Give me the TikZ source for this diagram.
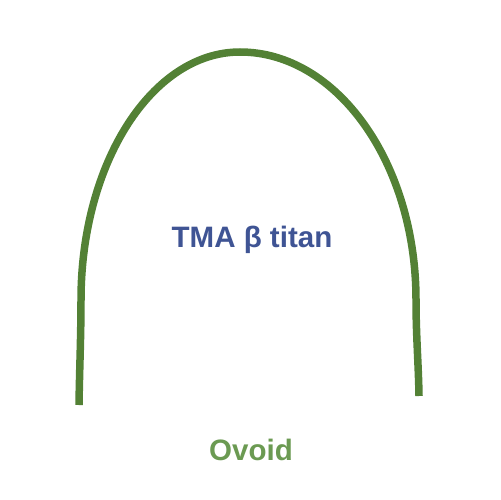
\documentclass[tikz,border=0pt]{standalone}
\usepackage{fontspec}
\setmainfont{Liberation Sans}
\definecolor{archgreen}{HTML}{538135}
\definecolor{labgreen}{HTML}{6B9A52}
\definecolor{labblue}{HTML}{3F5494}
\begin{document}
\begin{tikzpicture}[x=0.02cm,y=-0.02cm,
  arch/.style={draw=archgreen,line width=0.15cm},
  lab/.style={font=\bfseries\fontsize{16.8pt}{19pt}\selectfont,inner sep=0pt}]
\useasboundingbox (0,0) rectangle (500,500);
\draw[arch] (79,405) .. controls (79.5,370) and (81,335) .. (81,300)
  .. controls (81,163) and (152,52) .. (240,52)
  .. controls (337,52) and (416,163) .. (416,300)
  .. controls (416,335) and (418.5,365) .. (419,396);
\node[lab,text=labblue] (title) at (252,240) {TMA β titan};
\node[lab,text=labgreen] (ovoid) at (251,450) {Ovoid};
\end{tikzpicture}
\end{document}
